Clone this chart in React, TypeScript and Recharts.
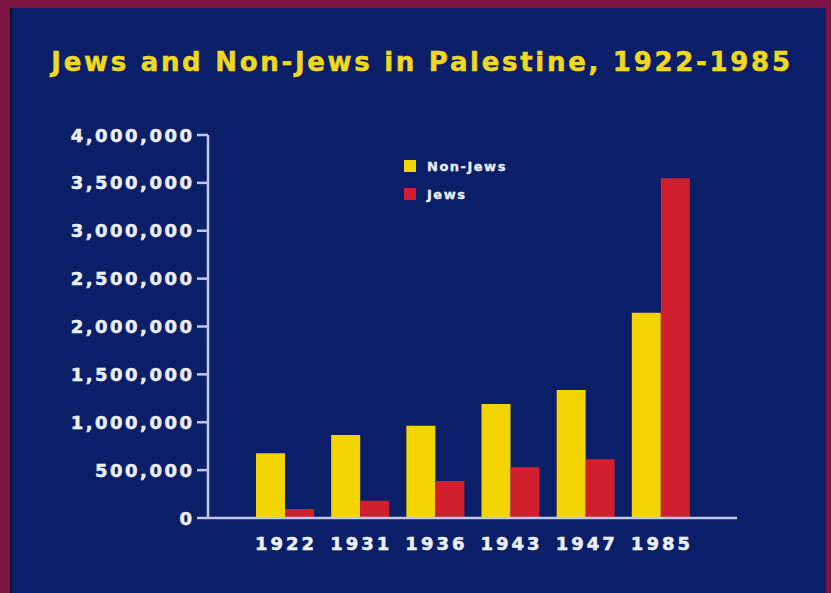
import { Bar, BarChart, Legend, XAxis, YAxis } from "recharts"

const years = ["1922", "1931", "1936", "1943", "1947", "1985"]
const nonJews = [676000, 867000, 964000, 1190000, 1337000, 2144000]
const jews = [94000, 180000, 386000, 530000, 613000, 3548000]
const yTicks = [0, 500000, 1000000, 1500000, 2000000, 2500000, 3000000, 3500000, 4000000]
const seriesOrder = ["nonJews", "jews"]

const data = years.map((year, i) => ({ year, nonJews: nonJews[i], jews: jews[i] }))

const FONT = "'DejaVu Sans', Verdana, sans-serif"
const AXIS = "#c3c7e6"
const LABEL = "#eef0f8"

const YTick = ({ x, y, payload }: any) => (
  <text
    x={x + 2.5}
    y={y}
    dy={6.5}
    textAnchor="end"
    fill={LABEL}
    stroke={LABEL}
    strokeWidth={0.5}
    fontFamily={FONT}
    fontWeight={700}
    fontSize={18}
    letterSpacing={2.5}
  >
    {Number(payload.value).toLocaleString("en-US")}
  </text>
)

const XTick = ({ x, y, payload }: any) => (
  <text
    x={x + 1.5}
    y={y}
    dy={24}
    textAnchor="middle"
    fill={LABEL}
    stroke={LABEL}
    strokeWidth={0.5}
    fontFamily={FONT}
    fontWeight={700}
    fontSize={18}
    letterSpacing={3}
  >
    {payload.value}
  </text>
)

const renderLegend = ({ payload }: any) => {
  const items = [...(payload || [])].sort(
    (a: any, b: any) => seriesOrder.indexOf(a.dataKey) - seriesOrder.indexOf(b.dataKey)
  )
  return (
    <div style={{ fontFamily: FONT }}>
      {items.map((item: any) => (
        <div key={item.value} style={{ display: "flex", alignItems: "center", height: 28 }}>
          <span style={{ width: 12, height: 12, background: item.color, display: "inline-block" }} />
          <span
            style={{
              marginLeft: 11,
              color: LABEL,
              fontWeight: 700,
              fontSize: 13,
              letterSpacing: 1.5,
              WebkitTextStroke: "0.3px " + LABEL,
            }}
          >
            {item.value}
          </span>
        </div>
      ))}
    </div>
  )
}

export default function App() {
  return (
    <div
      style={{
        position: "absolute",
        left: 0,
        top: 0,
        width: 831,
        height: 593,
        background: "#7d1342",
        overflow: "hidden",
      }}
    >
      <div
        style={{
          position: "absolute",
          left: 10,
          top: 8,
          width: 816,
          height: 585,
          background: "#0a1f68",
          borderLeft: "2px solid #0c0a22",
          boxSizing: "border-box",
        }}
      />
      <div
        style={{
          position: "absolute",
          left: 11,
          top: 47,
          width: 822,
          height: 30,
          lineHeight: "30px",
          textAlign: "center",
          fontFamily: FONT,
          fontWeight: 700,
          fontSize: 26,
          letterSpacing: 2.7,
          color: "#f0d820",
          WebkitTextStroke: "0.5px #f0d820",
          whiteSpace: "nowrap",
        }}
      >
        Jews and Non-Jews in Palestine, 1922-1985
      </div>
      <div style={{ position: "absolute", left: 0, top: 0 }}>
        <BarChart
          width={831}
          height={593}
          data={data}
          margin={{ top: 135, right: 94, left: 0, bottom: 35 }}
          barSize={29}
          barGap={0}
        >
          <XAxis
            dataKey="year"
            height={40}
            padding={{ left: 39, right: 39 }}
            axisLine={{ stroke: AXIS, strokeWidth: 2.5 }}
            tickLine={false}
            tick={<XTick />}
          />
          <YAxis
            width={208}
            domain={[0, 4000000]}
            ticks={yTicks}
            interval={0}
            tickSize={11}
            tickMargin={5}
            axisLine={{ stroke: AXIS, strokeWidth: 2.5 }}
            tickLine={{ stroke: AXIS, strokeWidth: 2.5 }}
            tick={<YTick />}
          />
          <Legend
            layout="vertical"
            align="center"
            verticalAlign="middle"
            wrapperStyle={{ top: 152, left: 404, width: 140 }}
            content={renderLegend}
          />
          <Bar dataKey="nonJews" name="Non-Jews" fill="#f2d400" isAnimationActive={false} />
          <Bar dataKey="jews" name="Jews" fill="#d21f2e" isAnimationActive={false} />
        </BarChart>
      </div>
    </div>
  )
}
